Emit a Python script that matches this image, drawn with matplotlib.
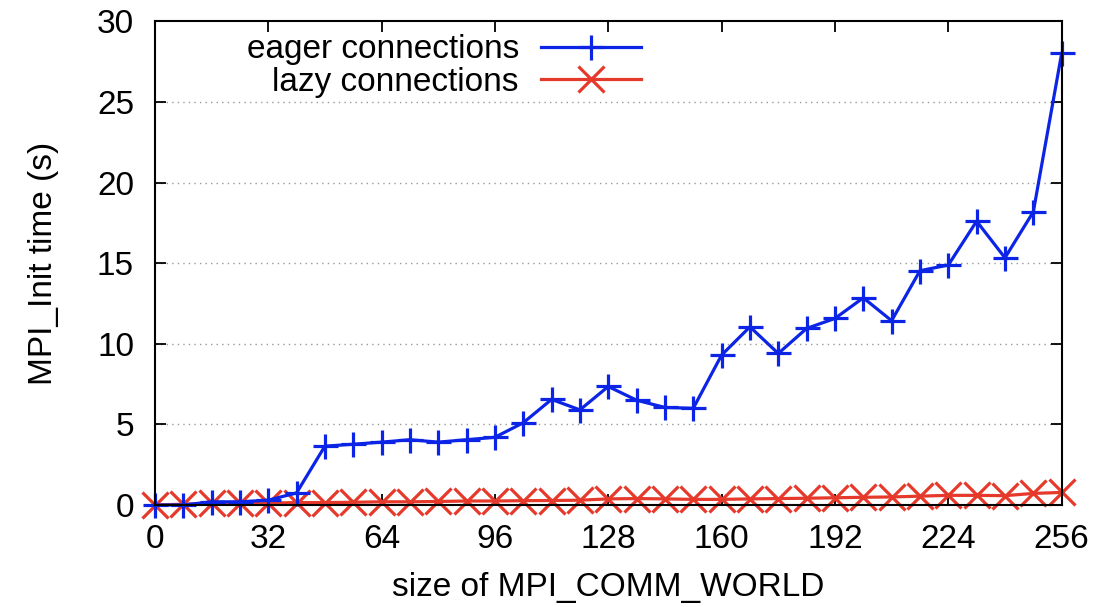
import matplotlib
matplotlib.use("Agg")
import matplotlib.pyplot as plt

plt.rcParams['font.family'] = ['Liberation Sans', 'DejaVu Sans']

sizes = [0, 8, 16, 24, 32, 40, 48, 56, 64, 72, 80, 88, 96, 104, 112, 120, 128,
         136, 144, 152, 160, 168, 176, 184, 192, 200, 208, 216, 224, 232, 240, 248, 256]
eager = [0.0, 0.0, 0.2, 0.2, 0.3, 0.75, 3.65, 3.77, 3.9, 4.05, 3.9, 4.05, 4.2,
         5.1, 6.55, 5.9, 7.35, 6.5, 6.05, 6.0, 9.3, 11.05, 9.4, 10.95, 11.57,
         12.85, 11.43, 14.53, 14.88, 17.6, 15.33, 18.18, 28.0]
lazy = [0.0, 0.05, 0.1, 0.1, 0.12, 0.15, 0.15, 0.17, 0.2, 0.2, 0.22, 0.25, 0.25,
        0.27, 0.28, 0.3, 0.38, 0.4, 0.38, 0.35, 0.35, 0.38, 0.4, 0.42, 0.45,
        0.48, 0.5, 0.55, 0.6, 0.6, 0.58, 0.72, 0.78]
xticks = [0, 32, 64, 96, 128, 160, 192, 224, 256]
yticks = [0, 5, 10, 15, 20, 25, 30]

fig = plt.figure(figsize=(11.14, 6.07), dpi=100)
ax = fig.add_axes([0.139, 0.168, 0.814, 0.797])

ax.plot(sizes, eager, color='#0b24e6', lw=2.3, marker='+', ms=18, mew=2.3,
        label='eager connections', zorder=4, clip_on=False)
ax.plot(sizes, lazy, color='#e5392b', lw=2.3, marker='x', ms=19, mew=2.3,
        label='lazy connections', zorder=3, clip_on=False)

ax.set_xlim(0, 256)
ax.set_ylim(0, 30)
ax.set_xticks(xticks)
ax.set_yticks(yticks)
for y in yticks[1:-1]:
    ax.axhline(y, color='#999999', lw=1, ls=(0, (1, 3)), zorder=0)

ax.tick_params(direction='in', length=8, width=1.3, top=True, right=True,
               labelsize=24, pad=15)
ax.tick_params(axis='x', pad=14)
for s in ax.spines.values():
    s.set_linewidth(1.5)
    s.set_zorder(5)

ax.set_xlabel('size of MPI_COMM_WORLD', fontsize=24, labelpad=12)
ax.set_ylabel('MPI_Init time (s)', fontsize=24, labelpad=27)

leg = ax.legend(loc='upper left', bbox_to_anchor=(0.068, 1.035), frameon=False,
                markerfirst=False, fontsize=24, handlelength=3.0,
                labelspacing=0.05, handletextpad=0.65)
for t in leg.get_texts():
    t.set_ha('right')

fig.savefig('out.png', dpi=100)
